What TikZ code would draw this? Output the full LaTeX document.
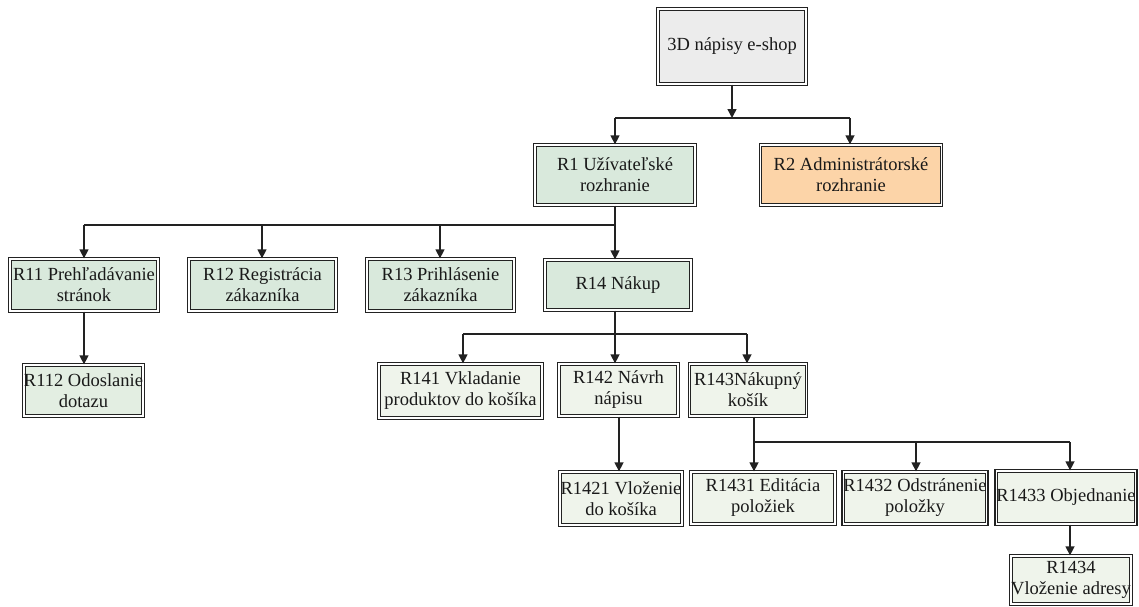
\documentclass[tikz,border=0pt]{standalone}
\usepackage{fontspec}
\IfFontExistsTF{LiberationSerif-Regular.ttf}
  {\newfontfamily\boxface{LiberationSerif-Regular.ttf}}
  {\newfontfamily\boxface{Latin Modern Roman}}
\usetikzlibrary{arrows.meta}

\definecolor{boxgray}{HTML}{ECECEC}
\definecolor{boxgreen}{HTML}{D9E9DC}
\definecolor{boxmint}{HTML}{E3EEE2}
\definecolor{boxpale}{HTML}{EFF4EB}
\definecolor{boxorange}{HTML}{FCD4A8}
\definecolor{linedark}{HTML}{222222}

\tikzset{
  reqbox/.style={draw=linedark, double=white, double distance=1.2pt,
    line width=1.3pt, inner sep=0pt, align=center, text=black!90,
    font=\boxface\fontsize{18.5}{21}\selectfont},
  link/.style={draw=linedark, line width=1.4pt},
  arr/.style={link, -{Triangle[width=9pt,length=9pt]}},
}

\begin{document}
\begin{tikzpicture}[x=1pt, y=-1pt]
\useasboundingbox (0,0) rectangle (1139,606);

% root
\node[reqbox, fill=boxgray, minimum width=148, minimum height=75] (top) at (732,46.5) {3D nápisy e-shop};

% level 1
\node[reqbox, fill=boxgreen, minimum width=160, minimum height=60] (r1) at (615,175) {R1 Užívateľské\\rozhranie};
\node[reqbox, fill=boxorange, minimum width=181, minimum height=60] (r2) at (851,175) {R2 Administrátorské\\rozhranie};

% level 2
\node[reqbox, fill=boxgreen, minimum width=148, minimum height=52] (r11) at (84,285) {R11 Prehľadávanie\\stránok};
\node[reqbox, fill=boxgreen, minimum width=147, minimum height=52] (r12) at (262.5,285) {R12 Registrácia\\zákazníka};
\node[reqbox, fill=boxgreen, minimum width=147, minimum height=52] (r13) at (440.5,285) {R13 Prihlásenie\\zákazníka};
\node[reqbox, fill=boxgreen, minimum width=146, minimum height=50] (r14) at (618,285) {R14 Nákup};

% level 3
\node[reqbox, fill=boxmint, minimum width=119, minimum height=51] (r112) at (83.5,390.5) {R112 Odoslanie\\dotazu};
\node[reqbox, fill=boxpale, minimum width=163, minimum height=54] (r141) at (460.5,391) {R141 Vkladanie\\produktov do košíka};
\node[reqbox, fill=boxpale, minimum width=119, minimum height=52] (r142) at (618.5,390) {R142 Návrh\\nápisu};
\node[reqbox, fill=boxpale, minimum width=117, minimum height=52] (r143) at (748,390) {R143Nákupný\\košík};

% level 4
\node[reqbox, fill=boxpale, minimum width=122, minimum height=53] (r1421) at (621,498.5) {R1421 Vloženie\\do košíka};
\node[reqbox, fill=boxpale, minimum width=144, minimum height=52] (r1431) at (763,498) {R1431 Editácia\\položiek};
\node[reqbox, fill=boxpale, minimum width=142, minimum height=52] (r1432) at (915,498) {R1432 Odstránenie\\položky};
\node[reqbox, fill=boxpale, minimum width=138, minimum height=53] (r1433) at (1066,497.5) {R1433 Objednanie};

% level 5
\node[reqbox, fill=boxpale, minimum width=120, minimum height=48] (r1434) at (1071,580) {R1434\\Vloženie adresy};

% branch points
\coordinate (j0) at (732,118);
\coordinate (j1) at (615,225);
\coordinate (j14) at (615,334);
\coordinate (j143) at (754,442);

% root -> level 1
\draw[arr] (top.south -| j0) -- (j0);
\draw[link] (j0 -| 615,0) -- (j0 -| 850,0);
\draw[arr] (j0 -| 615,0) -- (r1.north -| 615,0);
\draw[arr] (j0 -| 850,0) -- (r2.north -| 850,0);

% R1 -> level 2
\draw[link] (r1.south -| j1) -- (j1) -- (j1 -| 84,0);
\draw[arr] (j1) -- (r14.north -| j1);
\draw[arr] (j1 -| 84,0) -- (r11.north -| 84,0);
\draw[arr] (j1 -| 262,0) -- (r12.north -| 262,0);
\draw[arr] (j1 -| 440,0) -- (r13.north -| 440,0);

% R11 -> R112
\draw[arr] (r11.south -| 84,0) -- (r112.north -| 84,0);

% R14 -> level 3
\draw[link] (r14.south -| j14) -- (j14);
\draw[link] (j14 -| 463,0) -- (j14 -| 747,0);
\draw[arr] (j14) -- (r142.north -| j14);
\draw[arr] (j14 -| 463,0) -- (r141.north -| 463,0);
\draw[arr] (j14 -| 747,0) -- (r143.north -| 747,0);

% R142 -> R1421
\draw[arr] (r142.south -| 619,0) -- (r1421.north -| 619,0);

% R143 -> level 4
\draw[link] (r143.south -| j143) -- (j143) -- (j143 -| 1070,0);
\draw[arr] (j143) -- (r1431.north -| j143);
\draw[arr] (j143 -| 916,0) -- (r1432.north -| 916,0);
\draw[arr] (j143 -| 1070,0) -- (r1433.north -| 1070,0);

% R1433 -> R1434
\draw[arr] (r1433.south -| 1070,0) -- (r1434.north -| 1070,0);
\end{tikzpicture}
\end{document}
